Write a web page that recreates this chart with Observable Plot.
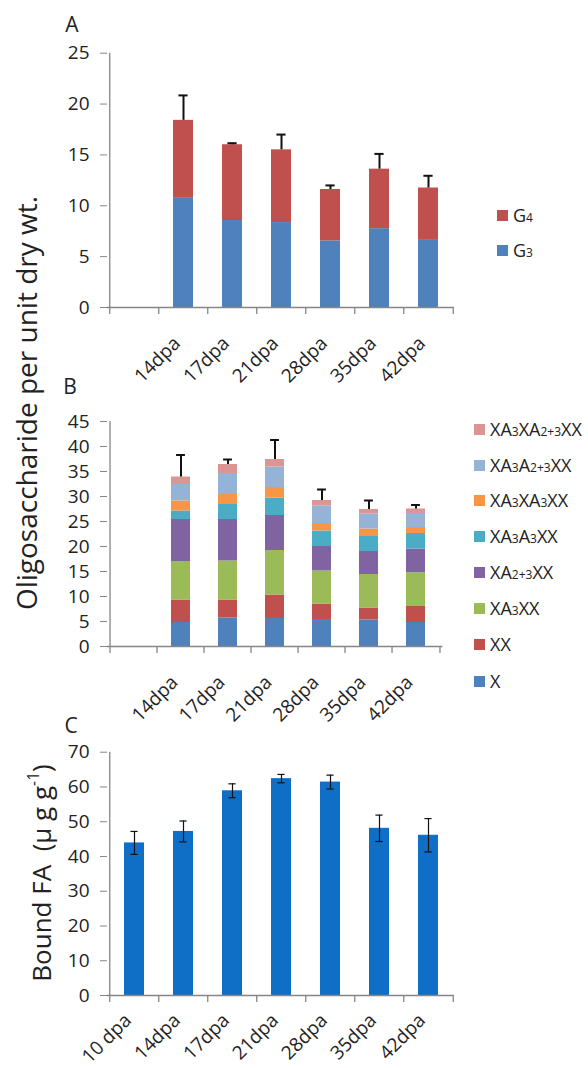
<!DOCTYPE html>
<html>
<head>
<meta charset="utf-8">
<script src="https://cdn.jsdelivr.net/npm/d3@7"></script>
<script src="https://cdn.jsdelivr.net/npm/@observablehq/plot@0.6"></script>
<style>
  html, body { margin: 0; padding: 0; background: #fff; }
  #root { position: relative; width: 588px; height: 1068px; font-family: "Open Sans", sans-serif; color: #222; }
  .panel { position: absolute; left: 0; }
  .panel svg { overflow: visible; }
  .abs { position: absolute; white-space: nowrap; line-height: 1; }
  .rot { transform: translate(-50%, -50%) rotate(-90deg); }
  .letter { font-size: 21px; transform: translate(-50%, -50%); }
  .leg { position: absolute; display: flex; align-items: center; transform: translateY(-50%); font-size: 18px; white-space: nowrap; }
  .leg .sw { width: 11px; height: 11px; margin-right: 5px; }
  .leg sub { font-size: 12px; vertical-align: baseline; }
  sup { font-size: 0.6em; vertical-align: 0.75em; }
</style>
</head>
<body>
<div id="root"></div>
<script>
// ---------- Panel A data ----------
const catsA = ["", "14dpa", "17dpa", "21dpa", "28dpa", "35dpa", "42dpa"];
const seriesA = ["G3", "G4"];
const colorsA = ["#4F81BD", "#C0504D"];
const g3A = [null, 10.8, 8.55, 8.35, 6.55, 7.75, 6.6];
const g4A = [null, 7.6, 7.45, 7.15, 5.05, 5.85, 5.15];
const errA = [null, 2.45, 0.15, 1.5, 0.4, 1.5, 1.2];
const ticksA = [0, 5, 10, 15, 20, 25];

// ---------- Panel B data ----------
const catsB = ["", "14dpa", "17dpa", "21dpa", "28dpa", "35dpa", "42dpa"];
const seriesB = ["X", "XX", "XA3XX", "XA2+3XX", "XA3A3XX", "XA3XA3XX", "XA3A2+3XX", "XA3XA2+3XX"];
const colorsB = ["#4F81BD", "#C0504D", "#9BBB59", "#8064A2", "#4BACC6", "#F79646", "#95B3D7", "#D99694"];
const bX        = [null, 4.8, 5.7, 5.6, 5.4, 5.3, 4.8];
const bXX       = [null, 4.5, 3.6, 4.7, 3.1, 2.4, 3.2];
const bXA3XX    = [null, 7.7, 7.8, 8.9, 6.6, 6.7, 6.75];
const bXA23XX   = [null, 8.4, 8.3, 7.0, 4.9, 4.6, 4.75];
const bXA3A3XX  = [null, 1.7, 3.0, 3.5, 3.1, 3.0, 3.1];
const bXA3XA3XX = [null, 2.0, 2.0, 2.1, 1.5, 1.5, 1.2];
const bXA3A23XX = [null, 3.3, 4.2, 4.1, 3.5, 3.0, 2.8];
const bXA3XA23XX= [null, 1.5, 1.8, 1.5, 1.1, 0.9, 0.9];
const errB = [null, 4.4, 1.0, 3.9, 2.2, 1.8, 0.8];
const ticksB = [0, 5, 10, 15, 20, 25, 30, 35, 40, 45];

// ---------- Panel C data ----------
const catsC = ["10 dpa", "14dpa", "17dpa", "21dpa", "28dpa", "35dpa", "42dpa"];
const valC = [43.9, 47.2, 58.9, 62.4, 61.4, 48.1, 46.1];
const errC = [3.3, 3.0, 2.0, 1.2, 2.0, 3.8, 4.8];
const ticksC = [0, 10, 20, 30, 40, 50, 60, 70];
const colorC = "#0F6FC6";

// ---------- build ----------
const root = document.getElementById("root");
const AXIS = "#868686";
const TXT = "#222";
const FONT = "Open Sans, sans-serif";
const FS = 19;

function addPanel(plot, top) {
  const div = document.createElement("div");
  div.className = "panel";
  div.style.top = top + "px";
  div.appendChild(plot);
  root.appendChild(div);
}

function axisMarks(cats, slot, yMax, ticks, labelDy) {
  return [
    Plot.ruleY([0], {stroke: AXIS, strokeWidth: 1.3}),
    Plot.ruleX([cats[0]], {x: d => d, dx: -slot / 2, y1: 0, y2: yMax, stroke: AXIS, strokeWidth: 1.3}),
    Plot.ruleX(cats, {x: d => d, dx: -slot / 2, y1: 0, y2: 0, insetBottom: -7, stroke: AXIS, strokeWidth: 1.3}),
    Plot.ruleX([cats[cats.length - 1]], {x: d => d, dx: slot / 2, y1: 0, y2: 0, insetBottom: -7, stroke: AXIS, strokeWidth: 1.3}),
    Plot.axisY({ticks, tickSize: 7, tickPadding: 11, stroke: AXIS, fill: TXT, fontSize: FS, label: null}),
    Plot.text(cats.filter(c => c !== ""), {x: d => d, frameAnchor: "bottom", dx: -2, dy: labelDy, rotate: -45, textAnchor: "end", fontSize: FS, fill: TXT})
  ];
}

function stackedPanel({cats, series, colors, values, err, ticks, yMax, top, height, mt, mb, ml, mr, labelDy}) {
  const W = 588;
  const slot = (W - ml - mr) / cats.length;
  const rows = [];
  cats.forEach((c, i) => series.forEach((s, k) => {
    if (values[k][i] != null) rows.push({cat: c, series: s, value: values[k][i]});
  }));
  const tops = cats.map((c, i) => ({cat: c, total: values.reduce((a, v) => a + (v[i] || 0), 0), err: err[i]}))
    .filter(d => d.err != null);
  const bw = slot * 0.4;
  const capW = 9;
  const plot = Plot.plot({
    width: W, height, marginTop: mt, marginBottom: mb, marginLeft: ml, marginRight: mr,
    style: {background: "transparent", fontFamily: FONT, fontSize: FS + "px", overflow: "visible"},
    x: {domain: cats, paddingInner: 0.6, paddingOuter: 0.3, axis: null},
    y: {domain: [0, yMax], axis: null},
    color: {domain: series, range: colors},
    marks: [
      Plot.barY(rows, {x: "cat", y: "value", fill: "series"}),
      Plot.ruleX(tops, {x: "cat", y1: "total", y2: d => d.total + d.err, stroke: "#111", strokeWidth: 2}),
      Plot.tickY(tops, {x: "cat", y: d => d.total + d.err, stroke: "#111", strokeWidth: 2, insetLeft: (bw - capW) / 2, insetRight: (bw - capW) / 2}),
      ...axisMarks(cats, slot, yMax, ticks, labelDy)
    ]
  });
  addPanel(plot, top);
}

stackedPanel({
  cats: catsA, series: seriesA, colors: colorsA, values: [g3A, g4A], err: errA, ticks: ticksA, yMax: 25,
  top: 0, height: 400, mt: 52.7, mb: 93, ml: 107, mr: 134.3, labelDy: 37
});

stackedPanel({
  cats: catsB, series: seriesB, colors: colorsB,
  values: [bX, bXX, bXA3XX, bXA23XX, bXA3A3XX, bXA3XA3XX, bXA3A23XX, bXA3XA23XX],
  err: errB, ticks: ticksB, yMax: 45,
  top: 370, height: 370, mt: 51, mb: 94, ml: 107, mr: 145.5, labelDy: 37
});

// Panel C
(function () {
  const W = 588, ml = 107, mr = 134.3, top = 700, height = 368, mt = 51.7, mb = 73;
  const slot = (W - ml - mr) / catsC.length;
  const rows = catsC.map((c, i) => ({cat: c, value: valC[i], err: errC[i]}));
  const bw = slot * 0.4, capW = 7;
  const plot = Plot.plot({
    width: W, height, marginTop: mt, marginBottom: mb, marginLeft: ml, marginRight: mr,
    style: {background: "transparent", fontFamily: FONT, fontSize: FS + "px", overflow: "visible"},
    x: {domain: catsC, paddingInner: 0.6, paddingOuter: 0.3, axis: null},
    y: {domain: [0, 70], axis: null},
    marks: [
      Plot.barY(rows, {x: "cat", y: "value", fill: colorC}),
      Plot.ruleX(rows, {x: "cat", y1: d => d.value - d.err, y2: d => d.value + d.err, stroke: "#111", strokeWidth: 1.2}),
      Plot.tickY(rows, {x: "cat", y: d => d.value + d.err, stroke: "#111", strokeWidth: 1.2, insetLeft: (bw - capW) / 2, insetRight: (bw - capW) / 2}),
      Plot.tickY(rows, {x: "cat", y: d => d.value - d.err, stroke: "#111", strokeWidth: 1.2, insetLeft: (bw - capW) / 2, insetRight: (bw - capW) / 2}),
      ...axisMarks(catsC, slot, 70, ticksC, 26)
    ]
  });
  addPanel(plot, top);
})();

// ---------- HTML annotations ----------
function addAbs(html, cls, left, top, extra) {
  const d = document.createElement("div");
  d.className = "abs " + cls;
  d.style.left = left + "px";
  d.style.top = top + "px";
  if (extra) Object.assign(d.style, extra);
  d.innerHTML = html;
  root.appendChild(d);
  return d;
}
addAbs("A", "letter", 72, 24);
addAbs("B", "letter", 70, 386);
addAbs("C", "letter", 71, 725);
addAbs("Oligosaccharide per unit dry wt.", "rot", 26, 403, {fontSize: "28px"});
addAbs("Bound FA&nbsp;&nbsp;(\u03bc g g<sup>-1</sup>)", "rot", 40, 873, {fontSize: "26px"});

function fmtName(s) {
  return s.replace(/([A-Z])(\d(?:\+\d)?)/g, "$1<sub>$2</sub>");
}
function legend(series, colors, left, ys) {
  series.forEach((s, i) => {
    const d = document.createElement("div");
    d.className = "leg";
    d.style.left = left + "px";
    d.style.top = ys[i] + "px";
    d.innerHTML = `<span class="sw" style="background:${colors[i]}"></span><span>${fmtName(s)}</span>`;
    root.appendChild(d);
  });
}
legend(seriesA.slice().reverse(), colorsA.slice().reverse(), 497, [215, 250]);
legend(seriesB.slice().reverse(), colorsB.slice().reverse(), 474, [429, 465, 500, 536, 572, 608, 644, 681]);
</script>
</body>
</html>
